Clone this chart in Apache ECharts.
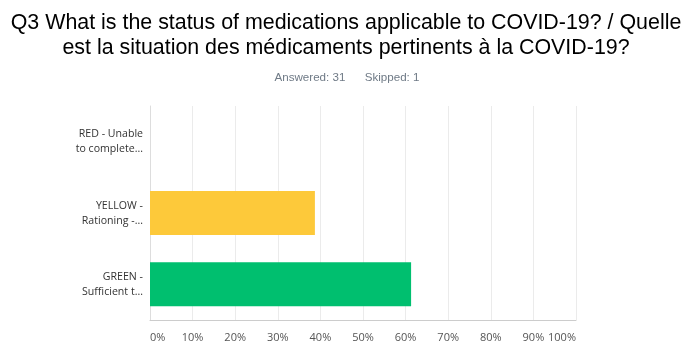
<!DOCTYPE html>
<html>
<head>
<meta charset="utf-8">
<script src="https://cdn.jsdelivr.net/npm/echarts@6/dist/echarts.min.js"></script>
<style>html,body{margin:0;padding:0;background:#fff;}#c{width:698px;height:352px;}</style>
</head>
<body>
<div id="c"></div>
<script>
const categories = ["RED - Unable\nto complete...", "YELLOW -\nRationing -...", "GREEN -\nSufficient t..."];
const values = [0, 38.71, 61.29];
const barColors = ["#e74c3c", "#fdc93a", "#00bf6f"];
const tickValues = [0, 10, 20, 30, 40, 50, 60, 70, 80, 90, 100];
const titleText = "Q3 What is the status of medications applicable to COVID-19? / Quelle\nest la situation des médicaments pertinents à la COVID-19?";
const subtitleText = "Answered: 31      Skipped: 1";

const chart = echarts.init(document.getElementById('c'), null, {renderer: 'canvas'});
chart.setOption({
  animation: false,
  backgroundColor: '#fff',
  graphic: [{
    type: 'text',
    x: 346, y: 11,
    style: {
      text: titleText,
      align: 'center', verticalAlign: 'top',
      font: 'normal 21.4px "Liberation Sans"',
      lineHeight: 25,
      fill: '#000'
    }
  }, {
    type: 'text',
    x: 347, y: 78,
    style: {
      text: subtitleText,
      align: 'center', verticalAlign: 'middle',
      font: 'normal 11.6px "Liberation Sans"',
      fill: '#6f7a86'
    }
  }],
  grid: {left: 150, right: 122, top: 106, bottom: 32, containLabel: false},
  xAxis: {
    type: 'value', min: 0, max: 100, interval: 10,
    axisLine: {show: true, lineStyle: {color: '#cccccc', width: 1}},
    axisTick: {show: false},
    splitLine: {show: true, lineStyle: {color: '#ebebeb', width: 1}},
    axisLabel: {
      formatter: v => tickValues.includes(v) ? v + '%' : '',
      fontFamily: 'Open Sans', fontSize: 11, color: '#555', margin: 12,
      alignMinLabel: 'left', alignMaxLabel: 'right'
    }
  },
  yAxis: {
    type: 'category', data: categories, inverse: true,
    axisLine: {show: true, lineStyle: {color: '#dddddd'}},
    axisTick: {show: false},
    axisLabel: {fontFamily: 'Open Sans', fontSize: 10.6, color: '#333', lineHeight: 15, margin: 7, align: 'right', padding: [8, 0, 0, 0]}
  },
  series: [{
    type: 'bar',
    data: values.map((v, i) => ({value: v, itemStyle: {color: barColors[i]}})),
    barWidth: 44
  }]
});
</script>
</body>
</html>
